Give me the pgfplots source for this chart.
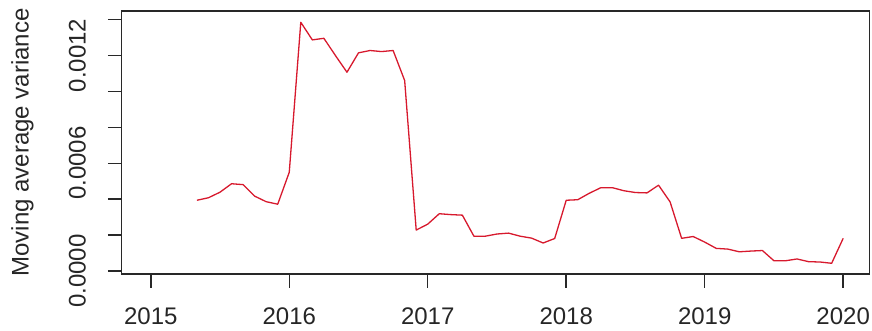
\documentclass[border=0pt]{standalone}
\usepackage{fontspec}
\setmainfont{Liberation Sans}
\usepackage{pgfplots}
\pgfplotsset{compat=1.18}
\usepackage{pgfplotstable}

\definecolor{serieslinecol}{RGB}{215,25,45}
\definecolor{framecol}{RGB}{40,40,40}

% Monthly moving-average variance of returns
\pgfplotstableread{
t          v
2015.3333  0.000394
2015.4167  0.000408
2015.5000  0.000439
2015.5833  0.000486
2015.6667  0.000481
2015.7500  0.000417
2015.8333  0.000386
2015.9167  0.000372
2016.0000  0.000550
2016.0833  0.001385
2016.1667  0.001287
2016.2500  0.001296
2016.3333  0.001200
2016.4167  0.001107
2016.5000  0.001215
2016.5833  0.001228
2016.6667  0.001222
2016.7500  0.001228
2016.8333  0.001061
2016.9167  0.000228
2017.0000  0.000261
2017.0833  0.000319
2017.1667  0.000314
2017.2500  0.000311
2017.3333  0.000194
2017.4167  0.000194
2017.5000  0.000206
2017.5833  0.000211
2017.6667  0.000194
2017.7500  0.000183
2017.8333  0.000156
2017.9167  0.000181
2018.0000  0.000394
2018.0833  0.000397
2018.1667  0.000433
2018.2500  0.000464
2018.3333  0.000464
2018.4167  0.000447
2018.5000  0.000437
2018.5833  0.000435
2018.6667  0.000478
2018.7500  0.000385
2018.8333  0.000182
2018.9167  0.000192
2019.0000  0.000161
2019.0833  0.000126
2019.1667  0.000122
2019.2500  0.000107
2019.3333  0.000111
2019.4167  0.000114
2019.5000  0.000057
2019.5833  0.000057
2019.6667  0.000067
2019.7500  0.000052
2019.8333  0.000050
2019.9167  0.000043
2020.0000  0.000182
}\mavar

\begin{document}
\begin{tikzpicture}
\path[use as bounding box] (-60.85pt,-28.5pt) rectangle (375.15pt,137pt);
\begin{axis}[
  at={(0pt,0pt)}, anchor=south west,
  scale only axis,
  width=373.9pt, height=131.5pt,
  xmin=2014.79, xmax=2020.19,
  ymin=-0.0000167, ymax=0.001448,
  axis line style={color=framecol, line width=0.75pt},
  every tick/.style={color=framecol, line width=0.75pt},
  tick align=outside,
  major tick length=7pt,
  xtick pos=left, ytick pos=left,
  xtick={2015,2016,2017,2018,2019,2020},
  xticklabels={2015,2016,2017,2018,2019,2020},
  ytick={0,0.0002,0.0004,0.0006,0.0008,0.0010,0.0012,0.0014},
  yticklabels={0.0000,,,0.0006,,,0.0012,},
  scaled y ticks=false, scaled x ticks=false,
  /pgf/number format/assume math mode=true,
  tick label style={font=\fontsize{12}{14}\selectfont, color=black!85},
  xticklabel style={anchor=north, inner sep=0pt},
  xticklabel shift=9.8pt,
  yticklabel style={rotate=90, anchor=south, inner sep=0pt},
  yticklabel shift=10.8pt,
  ylabel={Moving average variance},
  ylabel style={at={(axis description cs:-0.1327,0.5)}, anchor=center,
    inner sep=0pt, font=\fontsize{12}{14}\selectfont, color=black!85},
  clip=false,
]
\addplot[serieslinecol, line width=0.65pt, line join=round] table[x=t, y=v] {\mavar};
\end{axis}
\end{tikzpicture}
\end{document}
